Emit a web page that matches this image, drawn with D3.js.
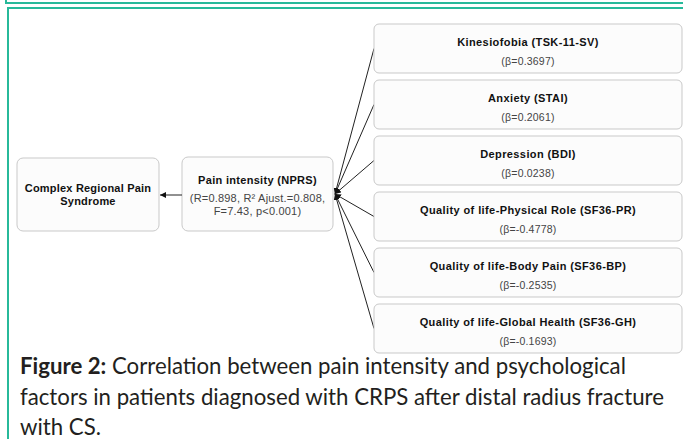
<!DOCTYPE html>
<html>
<head>
<meta charset="utf-8">
<script src="https://cdn.jsdelivr.net/npm/d3@7"></script>
<style>
  html, body { margin: 0; padding: 0; background: #fff; }
  svg { display: block; }
</style>
</head>
<body>
<div id="chart"></div>
<script>
// predictors of pain intensity and their beta values
var factors = [
    "Kinesiofobia (TSK-11-SV)",
    "Anxiety (STAI)",
    "Depression (BDI)",
    "Quality of life-Physical Role (SF36-PR)",
    "Quality of life-Body Pain (SF36-BP)",
    "Quality of life-Global Health (SF36-GH)"
];
var betas = [0.3697, 0.2061, 0.0238, -0.4778, -0.2535, -0.1693];

var outcomeLines = ["Complex Regional Pain", "Syndrome"];
var modelTitle = "Pain intensity (NPRS)";
var modelStats = ["(R=0.898, R\u00B2 Ajust.=0.808,", "F=7.43, p<0.001)"];

var captionBold = "Figure 2:";
var captionLines = [
    " Correlation between pain intensity and psychological",
    "factors in patients diagnosed with CRPS after distal radius fracture",
    "with CS."
];

var width = 683;
var height = 439;
var teal = "#27b99a";
var boxStroke = "#c9c9c9";
var boxFill = "#fcfcfc";
var font = "'Liberation Sans', Arial, sans-serif";

var svg = d3.select("#chart")
    .append("svg")
    .attr("width", width)
    .attr("height", height);

var defs = svg.append("defs");
defs.append("marker")
    .attr("id", "arrow")
    .attr("viewBox", "0 0 10 10")
    .attr("refX", 10)
    .attr("refY", 5)
    .attr("markerWidth", 6)
    .attr("markerHeight", 6)
    .attr("markerUnits", "userSpaceOnUse")
    .attr("orient", "auto")
    .append("path")
    .attr("d", "M0,0L10,5L0,10Z")
    .attr("fill", "#111");

// teal page frames
svg.append("path")
    .attr("d", "M6,0V3H" + width)
    .attr("fill", "none")
    .attr("stroke", teal)
    .attr("stroke-width", 2);
svg.append("path")
    .attr("d", "M8," + height + "V8H" + width)
    .attr("fill", "none")
    .attr("stroke", teal)
    .attr("stroke-width", 2);

// right column of predictor boxes
var y = d3.scaleBand()
    .domain(factors)
    .range([24, 353])
    .paddingInner(0.125)
    .paddingOuter(0);

var boxX0 = 374, boxX1 = 682;
var hub = { x: 335, y: 194 };
// plain hyphen for negatives, as in the figure
var fmt = d3.formatLocale({ decimal: ".", thousands: ",", grouping: [3], currency: ["", ""], minus: "-" }).format(".4f");

svg.selectAll("line.link")
    .data(factors)
    .enter().append("line")
    .attr("class", "link")
    .attr("x1", boxX0)
    .attr("y1", function (d) { return y(d) + y.bandwidth() / 2; })
    .attr("x2", hub.x)
    .attr("y2", hub.y)
    .attr("stroke", "#222")
    .attr("stroke-width", 1)
    .attr("marker-end", "url(#arrow)");

var cell = svg.selectAll("g.factor")
    .data(factors)
    .enter().append("g")
    .attr("class", "factor")
    .attr("transform", function (d) { return "translate(" + boxX0 + "," + y(d) + ")"; });

cell.append("rect")
    .attr("width", boxX1 - boxX0)
    .attr("height", y.bandwidth())
    .attr("rx", 5)
    .attr("fill", boxFill)
    .attr("stroke", boxStroke);

cell.append("text")
    .attr("x", (boxX1 - boxX0) / 2)
    .attr("y", 22)
    .attr("text-anchor", "middle")
    .attr("font-family", font)
    .attr("font-size", "11px")
    .attr("letter-spacing", "0.4px")
    .attr("font-weight", "bold")
    .attr("fill", "#111")
    .text(function (d) { return d; });

cell.append("text")
    .attr("x", (boxX1 - boxX0) / 2)
    .attr("y", 41)
    .attr("text-anchor", "middle")
    .attr("font-family", font)
    .attr("font-size", "10.5px")
    .attr("letter-spacing", "0.2px")
    .attr("fill", "#444")
    .text(function (d, i) { return "(\u03B2=" + fmt(betas[i]) + ")"; });

// middle box: pain intensity model
var mid = svg.append("g").attr("transform", "translate(182,157)");
mid.append("rect")
    .attr("width", 151)
    .attr("height", 74)
    .attr("rx", 6)
    .attr("fill", boxFill)
    .attr("stroke", boxStroke);
mid.append("text")
    .attr("x", 75.5)
    .attr("y", 27)
    .attr("text-anchor", "middle")
    .attr("font-family", font)
    .attr("font-size", "11px")
    .attr("letter-spacing", "0.3px")
    .attr("font-weight", "bold")
    .attr("fill", "#111")
    .text(modelTitle);
mid.selectAll("text.stat")
    .data(modelStats)
    .enter().append("text")
    .attr("class", "stat")
    .attr("x", 75.5)
    .attr("y", function (d, i) { return 45 + i * 13; })
    .attr("text-anchor", "middle")
    .attr("font-family", font)
    .attr("font-size", "11px")
    .attr("letter-spacing", "0.2px")
    .attr("fill", "#444")
    .text(function (d) { return d; });

// left box: outcome
var left = svg.append("g").attr("transform", "translate(17,158)");
left.append("rect")
    .attr("width", 142)
    .attr("height", 73)
    .attr("rx", 6)
    .attr("fill", boxFill)
    .attr("stroke", boxStroke);
left.selectAll("text")
    .data(outcomeLines)
    .enter().append("text")
    .attr("x", 71)
    .attr("y", function (d, i) { return 34 + i * 13; })
    .attr("text-anchor", "middle")
    .attr("font-family", font)
    .attr("font-size", "11px")
    .attr("letter-spacing", "0.2px")
    .attr("font-weight", "bold")
    .attr("fill", "#111")
    .text(function (d) { return d; });

svg.append("line")
    .attr("x1", 182)
    .attr("y1", 195)
    .attr("x2", 160)
    .attr("y2", 195)
    .attr("stroke", "#222")
    .attr("stroke-width", 1)
    .attr("marker-end", "url(#arrow)");

// caption
var capFont = "Lato, 'Open Sans', sans-serif";
var cap = svg.append("g").attr("fill", "#231f20");
var capText = cap.selectAll("text")
    .data(captionLines)
    .enter().append("text")
    .attr("x", 20)
    .attr("y", function (d, i) { return 374 + i * 30.5; })
    .attr("font-family", capFont)
    .attr("font-size", "20px");

capText.each(function (d, i) {
    var t = d3.select(this);
    if (i === 0) {
        t.append("tspan").attr("font-weight", "bold").text(captionBold);
    }
    t.append("tspan").text(d);
});

// fit the second caption line to the reference width
var target = 644;
var w = capText.nodes()[1].getComputedTextLength();
var size = 20 * target / w;
capText.attr("font-size", size + "px");
</script>
</body>
</html>
